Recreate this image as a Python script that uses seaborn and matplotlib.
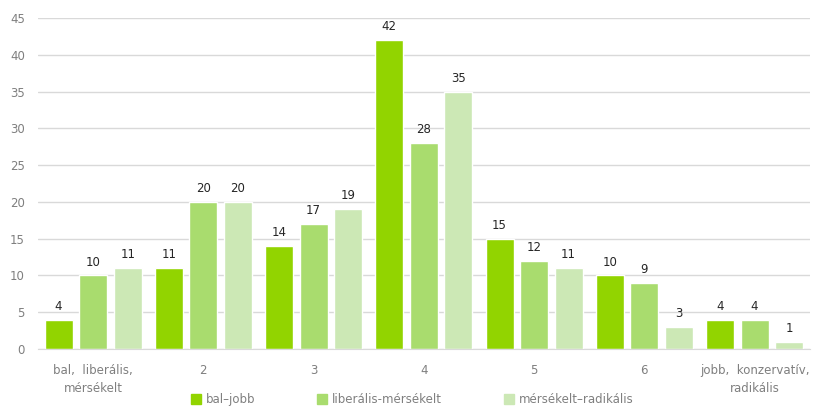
import pandas as pd
import seaborn as sns
import matplotlib.pyplot as plt

categories = ["bal,  liberális,\nmérsékelt", "2", "3", "4", "5", "6", "jobb,  konzervatív,\nradikális"]
series_names = ["bal–jobb", "liberális-mérsékelt", "mérsékelt–radikális"]
bal_jobb = [4, 11, 14, 42, 15, 10, 4]
liberalis_merseklet = [10, 20, 17, 28, 12, 9, 4]
merseklet_radikalis = [11, 20, 19, 35, 11, 3, 1]
colors = ["#92D400", "#A9DC6E", "#CCE8B5"]

rows = []
for name, vals in zip(series_names, [bal_jobb, liberalis_merseklet, merseklet_radikalis]):
    for c, v in zip(categories, vals):
        rows.append({"cat": c, "series": name, "value": v})
df = pd.DataFrame(rows)

sns.set_style("white")
plt.rcParams['font.family'] = ['DejaVu Sans']

fig = plt.figure(figsize=(8.14, 4.09), dpi=100)
ax = fig.add_axes([0.0467, 0.1467, 0.948, 0.809])

sns.barplot(data=df, x="cat", y="value", hue="series", palette=colors,
            width=0.94, gap=0.19, ax=ax, legend=False, saturation=1)

for cont in ax.containers:
    ax.bar_label(cont, padding=5, fontsize=8.5, color="#262626")

ax.set_ylim(0, 45)
ax.set_yticks(range(0, 46, 5))
ax.set_xlim(-0.5, 6.5)
ax.yaxis.grid(True, color="#D9D9D9", linewidth=1)
ax.set_axisbelow(True)
for s in ["top", "right", "left"]:
    ax.spines[s].set_visible(False)
ax.spines["bottom"].set_color("#D9D9D9")
ax.tick_params(axis="both", length=0, labelsize=8.5, labelcolor="#7F7F7F")
ax.tick_params(axis="x", pad=11)
ax.tick_params(axis="y", pad=9.5)
plt.setp(ax.get_xticklabels(), linespacing=1.45)
ax.set_xlabel("")
ax.set_ylabel("")

handles = [plt.Line2D([], [], marker="s", linestyle="", markersize=7,
                      markerfacecolor=c, markeredgecolor=c) for c in colors]
fig.legend(handles, series_names, loc="center", bbox_to_anchor=(0.506, 0.024),
           ncol=3, frameon=False, fontsize=8.5, labelcolor="#7F7F7F",
           handletextpad=0.3, columnspacing=5.2, handlelength=1)

fig.savefig("out.png", dpi=100)
